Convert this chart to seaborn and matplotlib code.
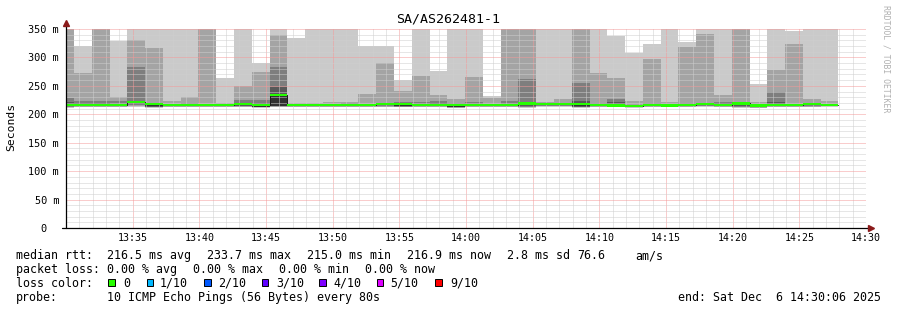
import numpy as np
import matplotlib
matplotlib.use("Agg")
import matplotlib.pyplot as plt
import seaborn as sns
from matplotlib.patches import Rectangle
from matplotlib.transforms import ScaledTranslation

# ------------------------------------------------------------------ data
title = "SA/AS262481-1"
axis_start = "13:30:00"          # left edge of the time axis
axis_end = "14:30:00"            # right edge of the time axis
first_step_start = "13:29:16"    # start of the first 80 s step
step_seconds = 80

x_tick_labels = ["13:35", "13:40", "13:45", "13:50", "13:55", "14:00",
                 "14:05", "14:10", "14:15", "14:20", "14:25", "14:30"]
y_tick_values = [0, 50, 100, 150, 200, 250, 300, 350]
y_tick_labels = ["0", "50 m", "100 m", "150 m", "200 m", "250 m", "300 m", "350 m"]

# sorted pings per 80 s step (ms); ping10 = slowest, ping1 = fastest
ping10 = [360, 320.7, 360, 329.5, 360, 360, 360, 360, 360, 264.0,
          360, 290.0, 360, 334.0, 360, 360, 360, 320.7, 320.7, 260.5,
          360, 276.9, 360, 360, 232.4, 360, 360, 360, 360, 360,
          360, 338.0, 307.9, 323.7, 360, 327.8, 360, 360, 360, 252.9,
          360, 347.0, 360, 360]
ping9 = [360, 273.0, 360, 230.0, 330.7, 316.7, 222.5, 231.0, 360, 220.0,
         250.5, 274.5, 339.5, 219.0, 220.0, 221.0, 221.0, 236.0, 290.0, 241.0,
         267.5, 234.0, 227.0, 266.0, 228.0, 360, 360, 221.0, 227.0, 360,
         272.8, 264.0, 223.0, 297.4, 222.0, 319.0, 341.0, 234.0, 360, 221.0,
         278.0, 323.7, 227.7, 222.5]
ping8 = [229.0, 223.0, 223.0, 223.0, 283.0, 219.0, 218.5, 219.0, 218.0, 218.0,
         225.0, 225.0, 283.0, 217.5, 218.0, 218.5, 219.0, 218.5, 220.0, 221.0,
         222.0, 223.6, 219.0, 221.0, 218.0, 222.5, 262.8, 219.5, 220.0, 255.0,
         219.0, 227.0, 217.0, 219.0, 217.5, 220.0, 220.0, 221.0, 221.0, 217.5,
         239.4, 218.0, 220.0, 218.0]
ping7 = [221.0, 219.0, 219.0, 218.0, 223.5, 218.0, 217.0, 217.5, 217.0, 217.0,
         219.0, 220.0, 248.5, 216.5, 217.0, 217.5, 217.5, 217.0, 218.5, 219.5,
         217.0, 219.0, 217.5, 218.5, 217.0, 218.0, 221.0, 218.5, 219.0, 224.0,
         217.5, 222.0, 216.0, 217.0, 216.5, 217.0, 219.0, 219.5, 220.0, 216.5,
         221.0, 217.0, 218.5, 217.5]
median_rtt = [216.5, 216.0, 216.5, 216.0, 221.0, 217.5, 216.0, 216.0, 216.0, 216.5,
              217.5, 217.0, 233.7, 216.0, 216.0, 217.0, 217.0, 216.0, 217.5, 218.0,
              216.0, 216.5, 216.5, 217.0, 216.0, 216.5, 219.0, 218.0, 218.5, 218.0,
              216.5, 215.5, 215.0, 216.0, 215.5, 216.0, 218.0, 216.0, 219.0, 215.5,
              217.0, 216.0, 217.5, 216.9]
ping5 = [215.5, 215.0, 215.5, 215.0, 219.5, 214.0, 215.0, 215.0, 215.0, 215.5,
         216.0, 213.5, 214.8, 215.0, 215.0, 216.0, 216.0, 215.0, 216.5, 214.5,
         215.0, 215.5, 213.0, 216.0, 215.0, 215.5, 215.5, 217.0, 217.5, 214.5,
         215.5, 214.5, 214.0, 215.0, 214.5, 215.0, 217.0, 215.0, 215.5, 213.0,
         216.0, 215.0, 216.5, 215.9]
ping4 = [215.0, 214.5, 215.0, 214.5, 218.5, 213.5, 214.5, 214.5, 214.5, 215.0,
         215.0, 213.0, 214.5, 214.5, 214.5, 215.0, 215.5, 214.5, 215.5, 214.0,
         214.5, 215.0, 212.5, 215.0, 214.5, 215.0, 214.0, 216.0, 216.5, 213.5,
         215.0, 214.0, 213.5, 214.5, 214.0, 214.5, 216.0, 214.5, 214.5, 212.5,
         215.0, 214.5, 215.5, 215.0]
ping3 = [213.5, 214.0, 214.0, 214.0, 216.0, 213.0, 214.0, 214.0, 214.0, 214.5,
         214.0, 212.5, 214.0, 214.0, 214.0, 214.0, 214.5, 214.0, 214.5, 213.5,
         214.0, 214.5, 212.0, 214.0, 214.0, 214.0, 213.0, 215.0, 215.0, 212.5,
         214.5, 213.5, 213.0, 214.0, 213.5, 214.0, 215.0, 214.0, 213.5, 212.0,
         214.0, 214.0, 214.5, 214.5]
ping2 = [212.5, 213.0, 213.0, 213.0, 214.5, 212.5, 213.5, 213.5, 213.5, 213.5,
         213.0, 212.0, 213.5, 213.5, 213.5, 213.5, 213.5, 213.5, 213.5, 213.0,
         213.0, 213.5, 211.5, 213.5, 213.5, 213.0, 212.0, 214.0, 214.0, 212.0,
         213.5, 213.0, 212.5, 213.5, 213.0, 213.5, 214.0, 213.5, 212.5, 211.5,
         213.0, 213.5, 213.5, 214.0]
ping1 = [211.0, 212.0, 212.0, 212.0, 213.0, 211.5, 212.5, 212.5, 212.0, 212.5,
         212.0, 211.0, 212.0, 212.5, 212.5, 212.5, 212.5, 212.5, 212.0, 212.0,
         212.0, 212.5, 211.0, 212.5, 212.5, 212.0, 211.0, 212.5, 212.5, 211.0,
         212.5, 212.0, 211.5, 212.5, 212.0, 212.5, 212.5, 212.5, 211.5, 210.5,
         212.0, 212.5, 212.5, 213.0]

# legend texts
rtt_stats = ["216.5 ms avg", "233.7 ms max", "215.0 ms min", "216.9 ms now",
             "2.8 ms sd", "76.6", "am/s"]
loss_stats = ["0.00 % avg", "0.00 % max", "0.00 % min", "0.00 % now"]
loss_labels = ["0", "1/10", "2/10", "3/10", "4/10", "5/10", "9/10"]
loss_colors = ["#26ff00", "#00b8ff", "#0059ff", "#5e00ff", "#7e00ff", "#dd00ff", "#ff0000"]
probe_text = "10 ICMP Echo Pings (56 Bytes) every 80s"
end_text = "end: Sat Dec  6 14:30:06 2025"
watermark = "RRDTOOL / TOBI OETIKER"

# ------------------------------------------------------------------ helpers
def to_min(hms, ref=axis_start):
    h, m, s = [int(v) for v in hms.split(":")]
    rh, rm, rs = [int(v) for v in ref.split(":")]
    return (h * 3600 + m * 60 + s - (rh * 3600 + rm * 60 + rs)) / 60.0

n_steps = len(median_rtt)
edges = to_min(first_step_start) + np.arange(n_steps + 1) * step_seconds / 60.0
x_max = to_min(axis_end)
x_tick_pos = [to_min(t + ":00") for t in x_tick_labels]

def stepy(v):
    v = np.asarray(v, dtype=float)
    return np.append(v, v[-1])

# ------------------------------------------------------------------ style
sns.set_theme(style="white")
plt.rcParams["font.family"] = ["DejaVu Sans Mono", "DejaVu Sans"]

W, H = 897, 310
fig = plt.figure(figsize=(W / 100, H / 100), dpi=100, facecolor="white")
L, R, T, B = 66, 866, 29, 228
ax = fig.add_axes([L / W, 1 - B / H, (R - L) / W, (B - T) / H])
ax.set_facecolor("white")

# smoke bands: outermost pair first
greys = ["#cacaca", "#a4a4a4", "#7e7e7e", "#585858", "#323232"]
lowers = [ping1, ping2, ping3, ping4, ping5]
uppers = [ping10, ping9, ping8, ping7, median_rtt]
for lo, hi, c in zip(lowers, uppers, greys):
    ax.fill_between(edges, stepy(lo), stepy(hi), step="post", color=c,
                    linewidth=0, zorder=1)

# median line + loss colour band
sns.lineplot(x=edges, y=stepy(median_rtt), drawstyle="steps-post",
             color="#202020", linewidth=0.72, ax=ax, zorder=3)
swidth = 1.9
ax.fill_between(edges, stepy(median_rtt) - swidth, stepy(median_rtt) + swidth,
                step="post", color=loss_colors[0], linewidth=0, zorder=4)

ax.set_xlim(0, x_max)
ax.set_ylim(0, 350)

# grid
ax.set_xticks(x_tick_pos)
ax.set_xticklabels(x_tick_labels)
ax.set_xticks(np.arange(1, x_max + 0.5, 1.0), minor=True)
ax.set_yticks(y_tick_values)
ax.set_yticklabels(y_tick_labels)
ax.set_yticks(np.arange(10, 351, 10), minor=True)
ax.set_axisbelow(False)
dot = (0, (1, 1))
ax.grid(which="minor", color="#cfcfcf", linestyle=dot, linewidth=0.72)
ax.grid(which="major", color="#f59a9a", linestyle=dot, linewidth=0.72)

for s in ax.spines.values():
    s.set_visible(False)
ax.tick_params(which="both", direction="out", color="#909090", width=0.72)
ax.tick_params(which="minor", length=1.5)
ax.tick_params(which="major", length=1.5)
ax.tick_params(axis="y", which="major", pad=3.5, labelsize=7.4, labelcolor="#000000")
ax.tick_params(axis="x", which="major", pad=2.0, labelsize=7.2, labelcolor="#000000")

# "0" label sits two characters further left (unit column left blank)
fig.canvas.draw()
for lbl in ax.get_yticklabels():
    if lbl.get_text() == "0":
        lbl.set_transform(lbl.get_transform() +
                          ScaledTranslation(-0.124, 0, fig.dpi_scale_trans))

# axes with arrows
ax.plot([-4 / 800, 1 + 5 / 800], [0, 0], transform=ax.transAxes, color="#000000",
        linewidth=0.9, clip_on=False, zorder=6)
ax.plot([0, 0], [0, 1 + 5 / 199], transform=ax.transAxes, color="#000000",
        linewidth=0.9, clip_on=False, zorder=6)
ax.plot([1 + 5 / 800], [0], marker=">", markersize=4.2, color="#8b1a1a",
        transform=ax.transAxes, clip_on=False, zorder=7, linestyle="none")
ax.plot([0], [1 + 6 / 199], marker="^", markersize=4.2, color="#8b1a1a",
        transform=ax.transAxes, clip_on=False, zorder=7, linestyle="none")

# title, y label, watermark
fig.text(448 / W, 1 - 19 / H, title, ha="center", va="center", fontsize=9.5,
         color="#000000")
fig.text(11 / W, 1 - 127 / H, "Seconds", rotation=90, ha="center", va="center",
         fontsize=8.2, color="#000000")
fig.text(886 / W, 1 - 59 / H, watermark, rotation=270, ha="center", va="center",
         fontsize=5.9, color="#b0b0b0")

# legend block
fs = 8.4
def ftext(xpx, ybase, s):
    fig.text(xpx / W, 1 - ybase / H, s, ha="left", va="baseline", fontsize=fs,
             color="#000000")

row1, row2, row3, row4 = 259.3, 272.7, 287.0, 301.0
ftext(16, row1, "median rtt:")
for xpx, s in zip([107.3, 207.3, 307.3, 407.3, 507.3, 577.0, 635.7], rtt_stats):
    ftext(xpx, row1, s)
ftext(16, row2, "packet loss:")
for xpx, s in zip([107.3, 193.3, 279.3, 365.3], loss_stats):
    ftext(xpx, row2, s)
ftext(16, row3, "loss color:")
box_x = [108.3, 146.7, 204.0, 261.7, 319.3, 376.7, 435.0]
lab_x = [123.3, 160.0, 218.3, 276.0, 333.3, 390.7, 450.0]
for bx, lx, lab, col in zip(box_x, lab_x, loss_labels, loss_colors):
    fig.patches.append(Rectangle((bx / W, 1 - 286.0 / H), 6.7 / W, 7.4 / H,
                                 transform=fig.transFigure, facecolor=col,
                                 edgecolor="#000000", linewidth=0.7))
    ftext(lx, row3, lab)
ftext(16, row4, "probe:")
ftext(107.3, row4, probe_text)
ftext(678.3, row4, end_text)

fig.savefig("out.png", dpi=100, facecolor="white")
